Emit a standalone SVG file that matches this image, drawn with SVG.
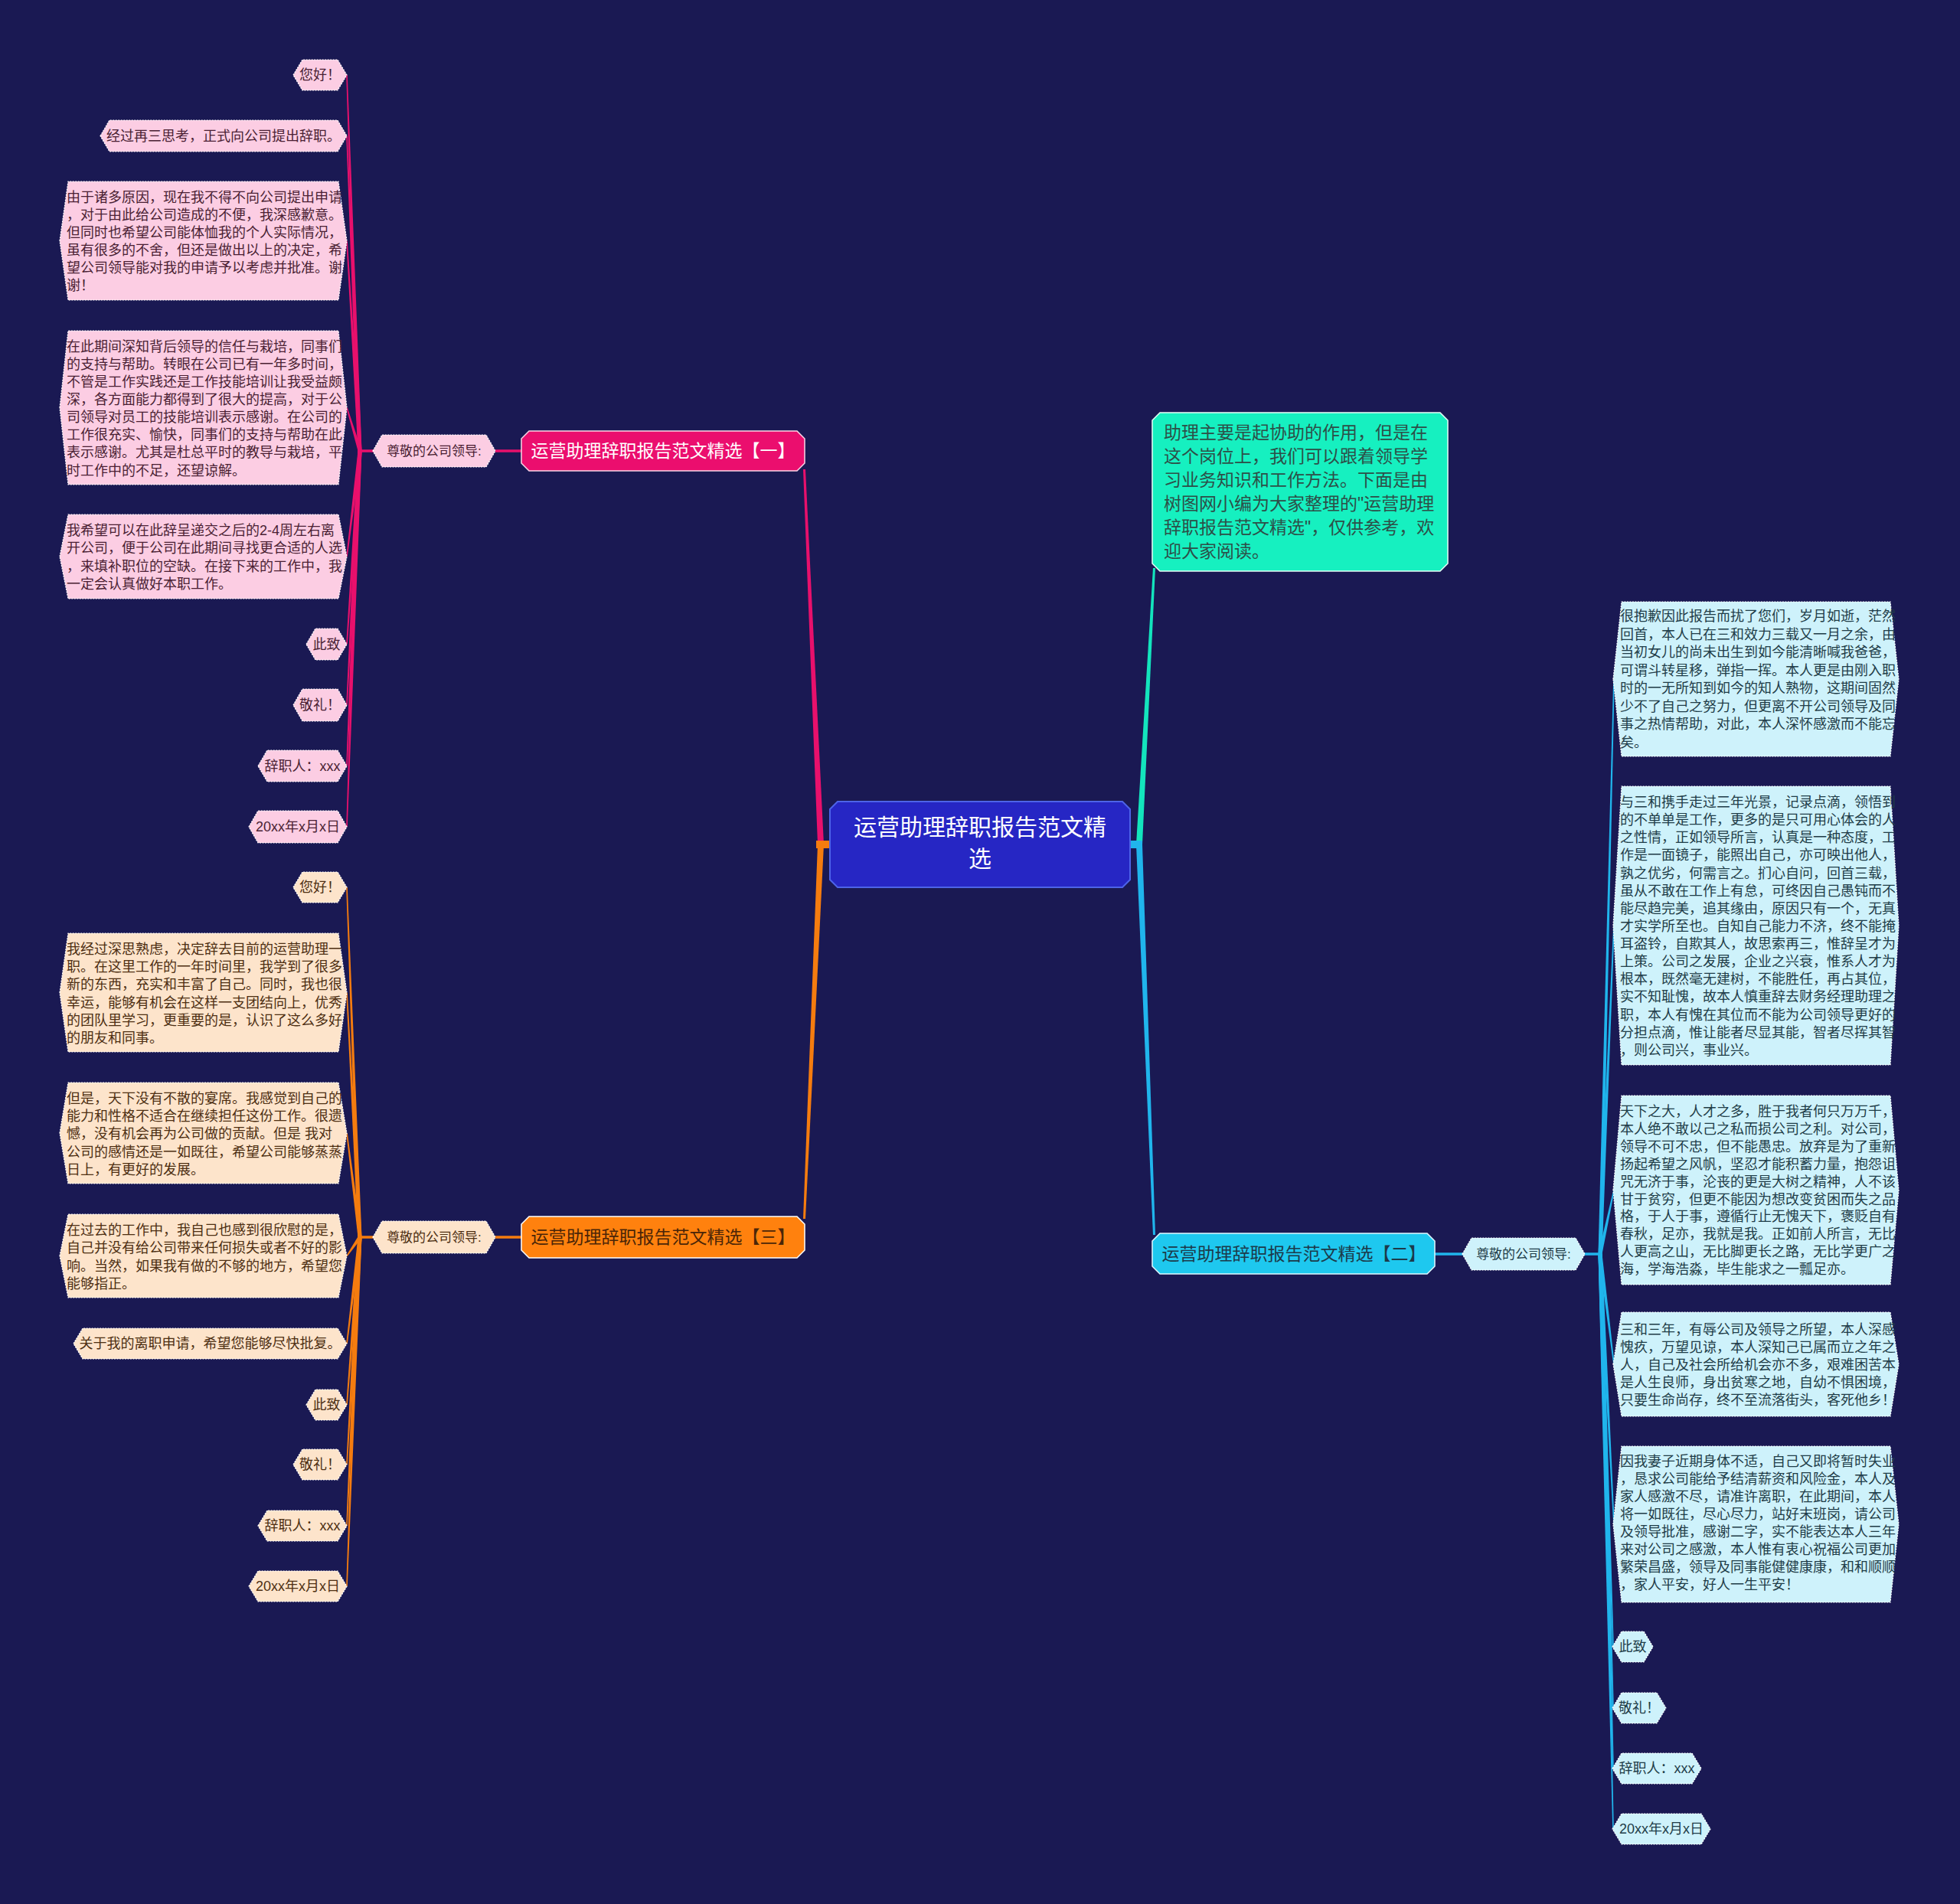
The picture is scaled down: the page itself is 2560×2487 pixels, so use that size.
<svg xmlns="http://www.w3.org/2000/svg" width="2560" height="2487" viewBox="0 0 2560 2487">
<style>
text{font-family:'Liberation Sans','Noto Sans CJK SC',sans-serif;}
.leafpk{fill:#fccde3;stroke:#ffffff;stroke-width:1.2;stroke-dasharray:2 1.5}
.leafor{fill:#fde4cb;stroke:#ffffff;stroke-width:1.2;stroke-dasharray:2 1.5}
.leafcy{fill:#cef2fb;stroke:#ffffff;stroke-width:1.2;stroke-dasharray:2 1.5}
.tpk{fill:#4a1f33;font-size:18px}
.tor{fill:#4d2f12;font-size:18px}
.tcy{fill:#1f3d48;font-size:18px}
.mid{text-anchor:middle}
.lpk{fill:#e8106c}
.lor{fill:#f57c0f}
.lcy{fill:#20b5ec}
.spk{stroke:#e8106c;stroke-width:3.5}
.sor{stroke:#f57c0f;stroke-width:3.5}
.scy{stroke:#20b5ec;stroke-width:3.5}
</style>
<rect width="2560" height="2487" fill="#1a1953"/>

<g id="connectors">
  <!-- main -->
  <polygon class="lpk" points="1068,1103 1049,613 1052,613 1076,1103"/>
  <polygon class="lor" points="1068,1103 1049,1592 1052,1592 1076,1103"/>
  <rect class="lor" x="1066" y="1098" width="20" height="10"/>
  <polygon fill="#13e4bd" points="1484,1103 1506,742 1509,742 1492,1103"/>
  <polygon class="lcy" points="1484,1103 1506,1613 1509,1613 1492,1103"/>
  <rect class="lcy" x="1474" y="1098" width="18" height="10"/>
  <!-- branch stubs -->
  <line class="spk" x1="647" y1="589" x2="683" y2="589"/>
  <line class="spk" x1="468" y1="589" x2="489" y2="589"/>
  <line class="sor" x1="647" y1="1616" x2="683" y2="1616"/>
  <line class="sor" x1="468" y1="1616" x2="489" y2="1616"/>
  <line class="scy" x1="1872" y1="1638" x2="1912" y2="1638"/>
  <line class="scy" x1="2068" y1="1638" x2="2092" y2="1638"/>
  <!-- pink leaves -->
  <polygon class="lpk" points="467.5,589 452.2,98 453.8,98 472.5,589"/>
  <polygon class="lpk" points="467.5,589 452.2,177.5 453.8,177.5 472.5,589"/>
  <polygon class="lpk" points="467.5,589 452.2,314.5 453.8,314.5 472.5,589"/>
  <polygon class="lpk" points="467.5,589 452.2,532.5 453.8,532.5 472.5,589"/>
  <polygon class="lpk" points="467.5,589 452.2,727 453.8,727 472.5,589"/>
  <polygon class="lpk" points="467.5,589 452.2,841.5 453.8,841.5 472.5,589"/>
  <polygon class="lpk" points="467.5,589 452.2,921 453.8,921 472.5,589"/>
  <polygon class="lpk" points="467.5,589 452.2,1000.5 453.8,1000.5 472.5,589"/>
  <polygon class="lpk" points="467.5,589 452.2,1080 453.8,1080 472.5,589"/>
  <!-- orange leaves -->
  <polygon class="lor" points="467.5,1616 452.2,1159 453.8,1159 472.5,1616"/>
  <polygon class="lor" points="467.5,1616 452.2,1296.5 453.8,1296.5 472.5,1616"/>
  <polygon class="lor" points="467.5,1616 452.2,1480 453.8,1480 472.5,1616"/>
  <polygon class="lor" points="468,1614.5 452.4,1640 453.6,1641 472,1617.5"/>
  <polygon class="lor" points="467.5,1616 452.2,1755 453.8,1755 472.5,1616"/>
  <polygon class="lor" points="467.5,1616 452.2,1835 453.8,1835 472.5,1616"/>
  <polygon class="lor" points="467.5,1616 452.2,1913 453.8,1913 472.5,1616"/>
  <polygon class="lor" points="467.5,1616 452.2,1993 453.8,1993 472.5,1616"/>
  <polygon class="lor" points="467.5,1616 452.2,2072 453.8,2072 472.5,1616"/>
  <!-- cyan leaves -->
  <polygon class="lcy" points="2087.5,1638 2107.2,887 2108.8,887 2092.5,1638"/>
  <polygon class="lcy" points="2087.5,1638 2107.2,1209 2108.8,1209 2092.5,1638"/>
  <polygon class="lcy" points="2087.5,1638 2107.2,1554.5 2108.8,1554.5 2092.5,1638"/>
  <polygon class="lcy" points="2087.5,1638 2107.2,1782 2108.8,1782 2092.5,1638"/>
  <polygon class="lcy" points="2087.5,1638 2107.2,1991 2108.8,1991 2092.5,1638"/>
  <polygon class="lcy" points="2087.5,1638 2106.2,2151 2107.8,2151 2092.5,1638"/>
  <polygon class="lcy" points="2087.5,1638 2106.2,2231 2107.8,2231 2092.5,1638"/>
  <polygon class="lcy" points="2087.5,1638 2106.2,2310 2107.8,2310 2092.5,1638"/>
  <polygon class="lcy" points="2087.5,1638 2106.2,2389 2107.8,2389 2092.5,1638"/>
</g>

<g id="center">
  <polygon points="1094,1047 1466,1047 1476,1057 1476,1149 1466,1159 1094,1159 1084,1149 1084,1057" fill="#2626c4" stroke="#4d63e8" stroke-width="2"/>
  <text x="1280" y="1091" class="mid" font-size="30" fill="#ffffff">运营助理辞职报告范文精</text>
  <text x="1280" y="1132" class="mid" font-size="30" fill="#ffffff">选</text>
</g>

<g id="intro">
  <polygon points="1515,539 1881,539 1891,549 1891,736 1881,746 1515,746 1505,736 1505,549" fill="#16f0c0" stroke="#e6fff8" stroke-width="1.5"/>
  <text font-size="23" fill="#2d4f48">
    <tspan x="1520" y="573">助理主要是起协助的作用，但是在</tspan>
    <tspan x="1520" y="604">这个岗位上，我们可以跟着领导学</tspan>
    <tspan x="1520" y="635">习业务知识和工作方法。下面是由</tspan>
    <tspan x="1520" y="666">树图网小编为大家整理的"运营助理</tspan>
    <tspan x="1520" y="697">辞职报告范文精选"，仅供参考，欢</tspan>
    <tspan x="1520" y="728">迎大家阅读。</tspan>
  </text>
</g>

<g id="branch1">
  <polygon points="691,563 1041,563 1051,573 1051,605 1041,615 691,615 681,605 681,573" fill="#eb0e6e" stroke="#fbd5e6" stroke-width="1.5"/>
  <text x="866" y="597" class="mid" font-size="23" fill="#ffffff">运营助理辞职报告范文精选【一】</text>
</g>
<g id="b1-sub">
  <polygon class="leafpk" points="487,589 499,568 635,568 647,589 635,610 499,610"/>
  <text x="567" y="595" class="tpk mid" style="font-size:17px">尊敬的公司领导:</text>
</g>
<g id="b1-l1"><polygon class="leafpk" points="383,98 395,78 441,78 453,98 441,118 395,118"/><text x="418" y="104" class="tpk mid">您好！</text></g>
<g id="b1-l2"><polygon class="leafpk" points="131,177.5 143,157 441,157 453,177.5 441,198 143,198"/><text x="292" y="184" class="tpk mid">经过再三思考，正式向公司提出辞职。</text></g>
<g id="b1-l3"><polygon class="leafpk" points="78,314.5 89,237 442,237 453,314.5 442,392 89,392"/>
  <text class="tpk"><tspan x="87" y="264">由于诸多原因，现在我不得不向公司提出申请</tspan><tspan x="87" y="287">，对于由此给公司造成的不便，我深感歉意。</tspan><tspan x="87" y="310">但同时也希望公司能体恤我的个人实际情况，</tspan><tspan x="87" y="333">虽有很多的不舍，但还是做出以上的决定，希</tspan><tspan x="87" y="356">望公司领导能对我的申请予以考虑并批准。谢</tspan><tspan x="87" y="379">谢！</tspan></text></g>
<g id="b1-l4"><polygon class="leafpk" points="78,532.5 89,432 442,432 453,532.5 442,633 89,633"/>
  <text class="tpk"><tspan x="87" y="459">在此期间深知背后领导的信任与栽培，同事们</tspan><tspan x="87" y="482">的支持与帮助。转眼在公司已有一年多时间，</tspan><tspan x="87" y="505">不管是工作实践还是工作技能培训让我受益颇</tspan><tspan x="87" y="528">深，各方面能力都得到了很大的提高，对于公</tspan><tspan x="87" y="551">司领导对员工的技能培训表示感谢。在公司的</tspan><tspan x="87" y="574">工作很充实、愉快，同事们的支持与帮助在此</tspan><tspan x="87" y="597">表示感谢。尤其是杜总平时的教导与栽培，平</tspan><tspan x="87" y="621">时工作中的不足，还望谅解。</tspan></text></g>
<g id="b1-l5"><polygon class="leafpk" points="78,727 89,672 442,672 453,727 442,782 89,782"/>
  <text class="tpk"><tspan x="87" y="699">我希望可以在此辞呈递交之后的2-4周左右离</tspan><tspan x="87" y="722">开公司，便于公司在此期间寻找更合适的人选</tspan><tspan x="87" y="746">，来填补职位的空缺。在接下来的工作中，我</tspan><tspan x="87" y="769">一定会认真做好本职工作。</tspan></text></g>
<g id="b1-l6"><polygon class="leafpk" points="400,841.5 412,821 441,821 453,841.5 441,862 412,862"/><text x="426.5" y="848" class="tpk mid">此致</text></g>
<g id="b1-l7"><polygon class="leafpk" points="383,921 395,900 441,900 453,921 441,942 395,942"/><text x="418" y="927" class="tpk mid">敬礼！</text></g>
<g id="b1-l8"><polygon class="leafpk" points="337,1000.5 349,980 441,980 453,1000.5 441,1021 349,1021"/><text x="395" y="1007" class="tpk mid">辞职人：xxx</text></g>
<g id="b1-l9"><polygon class="leafpk" points="325,1080 337,1059 441,1059 453,1080 441,1101 337,1101"/><text x="389" y="1086" class="tpk mid">20xx年x月x日</text></g>

<g id="branch3">
  <polygon points="691,1589 1041,1589 1051,1599 1051,1633 1041,1643 691,1643 681,1633 681,1599" fill="#ff810e" stroke="#ffffff" stroke-width="1.5"/>
  <text x="866" y="1624" class="mid" font-size="23" fill="#4a2508">运营助理辞职报告范文精选【三】</text>
</g>
<g id="b3-sub">
  <polygon class="leafor" points="487,1616 499,1595 635,1595 647,1616 635,1637 499,1637"/>
  <text x="567" y="1622" class="tor mid" style="font-size:17px">尊敬的公司领导:</text>
</g>
<g id="b3-l1"><polygon class="leafor" points="383,1159 395,1139 441,1139 453,1159 441,1179 395,1179"/><text x="418" y="1165" class="tor mid">您好！</text></g>
<g id="b3-l2"><polygon class="leafor" points="78,1296.5 89,1219 442,1219 453,1296.5 442,1374 89,1374"/>
  <text class="tor"><tspan x="87" y="1246">我经过深思熟虑，决定辞去目前的运营助理一</tspan><tspan x="87" y="1269">职。在这里工作的一年时间里，我学到了很多</tspan><tspan x="87" y="1292">新的东西，充实和丰富了自己。同时，我也很</tspan><tspan x="87" y="1316">幸运，能够有机会在这样一支团结向上，优秀</tspan><tspan x="87" y="1339">的团队里学习，更重要的是，认识了这么多好</tspan><tspan x="87" y="1362">的朋友和同事。</tspan></text></g>
<g id="b3-l3"><polygon class="leafor" points="78,1480 89,1414 442,1414 453,1480 442,1546 89,1546"/>
  <text class="tor"><tspan x="87" y="1441">但是，天下没有不散的宴席。我感觉到自己的</tspan><tspan x="87" y="1464">能力和性格不适合在继续担任这份工作。很遗</tspan><tspan x="87" y="1487">憾，没有机会再为公司做的贡献。但是 我对</tspan><tspan x="87" y="1511">公司的感情还是一如既往，希望公司能够蒸蒸</tspan><tspan x="87" y="1534">日上，有更好的发展。</tspan></text></g>
<g id="b3-l4"><polygon class="leafor" points="78,1640.5 89,1586 442,1586 453,1640.5 442,1695 89,1695"/>
  <text class="tor"><tspan x="87" y="1613">在过去的工作中，我自己也感到很欣慰的是，</tspan><tspan x="87" y="1636">自己并没有给公司带来任何损失或者不好的影</tspan><tspan x="87" y="1660">响。当然，如果我有做的不够的地方，希望您</tspan><tspan x="87" y="1683">能够指正。</tspan></text></g>
<g id="b3-l5"><polygon class="leafor" points="96,1755 108,1735 441,1735 453,1755 441,1775 108,1775"/><text x="274.5" y="1761" class="tor mid">关于我的离职申请，希望您能够尽快批复。</text></g>
<g id="b3-l6"><polygon class="leafor" points="400,1835 412,1815 441,1815 453,1835 441,1855 412,1855"/><text x="426.5" y="1841" class="tor mid">此致</text></g>
<g id="b3-l7"><polygon class="leafor" points="383,1913 395,1893 441,1893 453,1913 441,1933 395,1933"/><text x="418" y="1919" class="tor mid">敬礼！</text></g>
<g id="b3-l8"><polygon class="leafor" points="337,1993 349,1973 441,1973 453,1993 441,2013 349,2013"/><text x="395" y="1999" class="tor mid">辞职人：xxx</text></g>
<g id="b3-l9"><polygon class="leafor" points="325,2072 337,2052 441,2052 453,2072 441,2092 337,2092"/><text x="389" y="2078" class="tor mid">20xx年x月x日</text></g>

<g id="branch2">
  <polygon points="1515,1611 1864,1611 1874,1621 1874,1654 1864,1664 1515,1664 1505,1654 1505,1621" fill="#1ec8ef" stroke="#e0f8ff" stroke-width="1.5"/>
  <text x="1690" y="1646" class="mid" font-size="23" fill="#1c3a4a">运营助理辞职报告范文精选【二】</text>
</g>
<g id="b2-sub">
  <polygon class="leafcy" points="1910,1638 1922,1617 2058,1617 2070,1638 2058,1659 1922,1659"/>
  <text x="1990" y="1644" class="tcy mid" style="font-size:17px">尊敬的公司领导:</text>
</g>
<g id="b2-l1"><polygon class="leafcy" points="2107,887 2118,786 2469,786 2480,887 2469,988 2118,988"/>
  <text class="tcy"><tspan x="2116" y="811">很抱歉因此报告而扰了您们，岁月如逝，茫然</tspan><tspan x="2116" y="835">回首，本人已在三和效力三载又一月之余，由</tspan><tspan x="2116" y="858">当初女儿的尚未出生到如今能清晰喊我爸爸，</tspan><tspan x="2116" y="882">可谓斗转星移，弹指一挥。本人更是由刚入职</tspan><tspan x="2116" y="905">时的一无所知到如今的知人熟物，这期间固然</tspan><tspan x="2116" y="929">少不了自己之努力，但更离不开公司领导及同</tspan><tspan x="2116" y="952">事之热情帮助，对此，本人深怀感激而不能忘</tspan><tspan x="2116" y="976">矣。</tspan></text></g>
<g id="b2-l2"><polygon class="leafcy" points="2107,1209 2118,1027 2469,1027 2480,1209 2469,1391 2118,1391"/>
  <text class="tcy"><tspan x="2116" y="1054">与三和携手走过三年光景，记录点滴，领悟到</tspan><tspan x="2116" y="1077">的不单单是工作，更多的是只可用心体会的人</tspan><tspan x="2116" y="1100">之性情，正如领导所言，认真是一种态度，工</tspan><tspan x="2116" y="1123">作是一面镜子，能照出自己，亦可映出他人，</tspan><tspan x="2116" y="1147">孰之优劣，何需言之。扪心自问，回首三载，</tspan><tspan x="2116" y="1170">虽从不敢在工作上有怠，可终因自己愚钝而不</tspan><tspan x="2116" y="1193">能尽趋完美，追其缘由，原因只有一个，无真</tspan><tspan x="2116" y="1216">才实学所至也。自知自己能力不济，终不能掩</tspan><tspan x="2116" y="1239">耳盗铃，自欺其人，故思索再三，惟辞呈才为</tspan><tspan x="2116" y="1262">上策。公司之发展，企业之兴衰，惟系人才为</tspan><tspan x="2116" y="1285">根本，既然毫无建树，不能胜任，再占其位，</tspan><tspan x="2116" y="1308">实不知耻愧，故本人慎重辞去财务经理助理之</tspan><tspan x="2116" y="1332">职，本人有愧在其位而不能为公司领导更好的</tspan><tspan x="2116" y="1355">分担点滴，惟让能者尽显其能，智者尽挥其智</tspan><tspan x="2116" y="1378">，则公司兴，事业兴。</tspan></text></g>
<g id="b2-l3"><polygon class="leafcy" points="2107,1554.5 2118,1431 2469,1431 2480,1554.5 2469,1678 2118,1678"/>
  <text class="tcy"><tspan x="2116" y="1458">天下之大，人才之多，胜于我者何只万万千，</tspan><tspan x="2116" y="1481">本人绝不敢以己之私而损公司之利。对公司，</tspan><tspan x="2116" y="1504">领导不可不忠，但不能愚忠。放弃是为了重新</tspan><tspan x="2116" y="1527">扬起希望之风帆，坚忍才能积蓄力量，抱怨诅</tspan><tspan x="2116" y="1550">咒无济于事，沦丧的更是大树之精神，人不该</tspan><tspan x="2116" y="1573">甘于贫穷，但更不能因为想改变贫困而失之品</tspan><tspan x="2116" y="1595">格，于人于事，遵循行止无愧天下，褒贬自有</tspan><tspan x="2116" y="1618">春秋，足亦，我就是我。正如前人所言，无比</tspan><tspan x="2116" y="1641">人更高之山，无比脚更长之路，无比学更广之</tspan><tspan x="2116" y="1664">海，学海浩淼，毕生能求之一瓢足亦。</tspan></text></g>
<g id="b2-l4"><polygon class="leafcy" points="2107,1782 2118,1714 2469,1714 2480,1782 2469,1850 2118,1850"/>
  <text class="tcy"><tspan x="2116" y="1743">三和三年，有辱公司及领导之所望，本人深感</tspan><tspan x="2116" y="1766">愧疚，万望见谅，本人深知己已属而立之年之</tspan><tspan x="2116" y="1789">人，自己及社会所给机会亦不多，艰难困苦本</tspan><tspan x="2116" y="1812">是人生良师，身出贫寒之地，自幼不惧困境，</tspan><tspan x="2116" y="1835">只要生命尚存，终不至流落街头，客死他乡！</tspan></text></g>
<g id="b2-l5"><polygon class="leafcy" points="2107,1991 2118,1889 2469,1889 2480,1991 2469,2093 2118,2093"/>
  <text class="tcy"><tspan x="2116" y="1915">因我妻子近期身体不适，自己又即将暂时失业</tspan><tspan x="2116" y="1938">，恳求公司能给予结清薪资和风险金，本人及</tspan><tspan x="2116" y="1961">家人感激不尽，请准许离职，在此期间，本人</tspan><tspan x="2116" y="1984">将一如既往，尽心尽力，站好末班岗，请公司</tspan><tspan x="2116" y="2007">及领导批准，感谢二字，实不能表达本人三年</tspan><tspan x="2116" y="2030">来对公司之感激，本人惟有衷心祝福公司更加</tspan><tspan x="2116" y="2053">繁荣昌盛，领导及同事能健健康康，和和顺顺</tspan><tspan x="2116" y="2076">，家人平安，好人一生平安！</tspan></text></g>
<g id="b2-l6"><polygon class="leafcy" points="2106,2151 2118,2131 2147,2131 2159,2151 2147,2171 2118,2171"/><text x="2132.5" y="2157" class="tcy mid">此致</text></g>
<g id="b2-l7"><polygon class="leafcy" points="2106,2231 2118,2211 2164,2211 2176,2231 2164,2251 2118,2251"/><text x="2141" y="2237" class="tcy mid">敬礼！</text></g>
<g id="b2-l8"><polygon class="leafcy" points="2106,2310 2118,2290 2210,2290 2222,2310 2210,2330 2118,2330"/><text x="2164" y="2316" class="tcy mid">辞职人：xxx</text></g>
<g id="b2-l9"><polygon class="leafcy" points="2106,2389 2118,2369 2222,2369 2234,2389 2222,2409 2118,2409"/><text x="2170" y="2395" class="tcy mid">20xx年x月x日</text></g>
</svg>
